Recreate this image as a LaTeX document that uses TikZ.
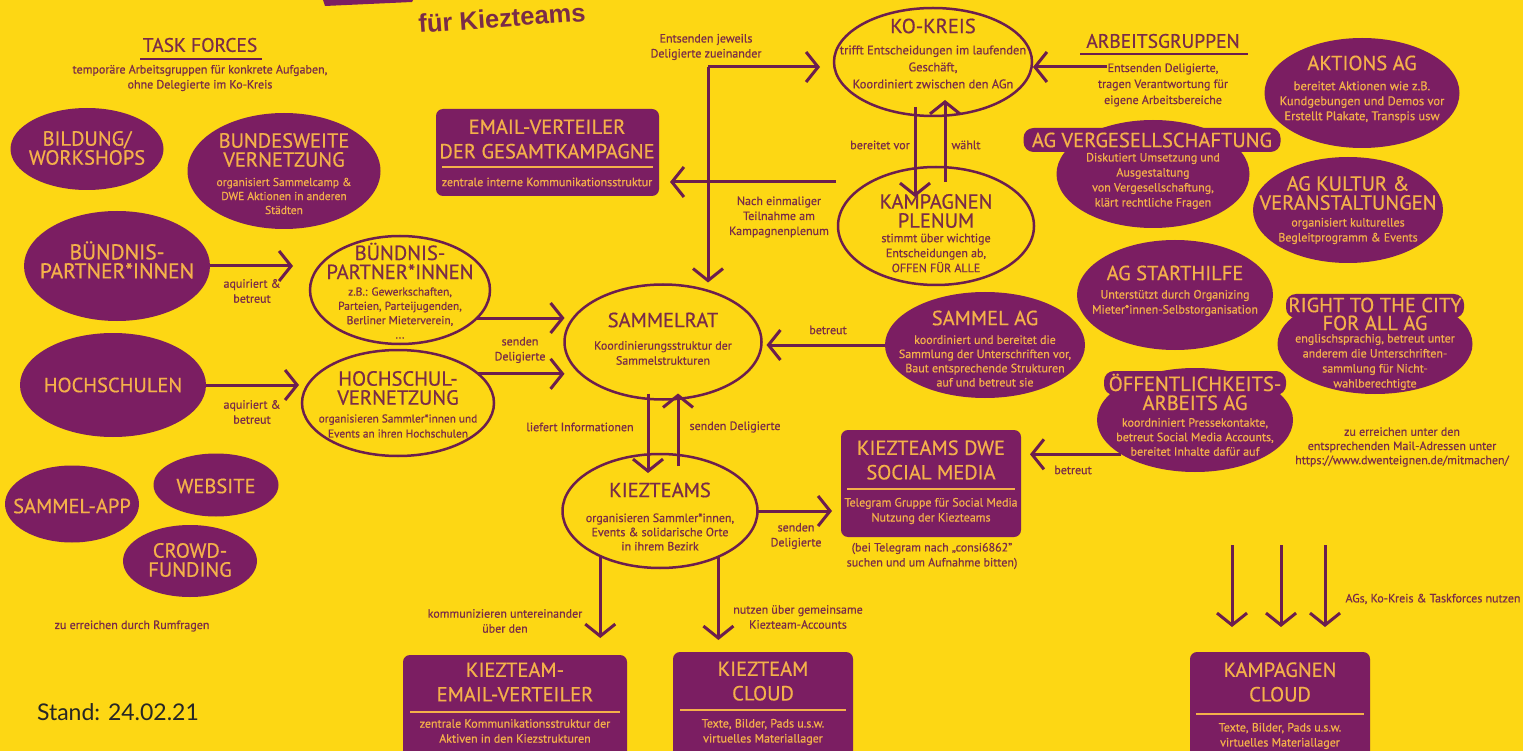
\documentclass[tikz,border=0pt]{standalone}
\usepackage{fontspec}
\setmainfont{PT Sans}[FakeBold=0.6]
\newfontfamily\arialfont{Liberation Sans}
\newfontfamily\standfont{Lato}
\usetikzlibrary{arrows.meta,shapes.geometric,calc}
\definecolor{bg}{HTML}{FDD714}
\definecolor{pur}{HTML}{7B1E62}
\definecolor{org}{HTML}{F4B04A}
\definecolor{ink}{HTML}{7A2C48}
\definecolor{ln}{HTML}{6C1E4E}
\begin{document}
\begin{tikzpicture}[x=1pt,y=-1pt,
  fe/.style={ellipse, fill=pur, inner sep=0pt, outer sep=0pt},
  le/.style={ellipse, draw=ln, line width=2.5pt, inner sep=0pt, outer sep=0pt},
  pb/.style={rectangle, rounded corners=7pt, fill=pur, inner sep=0pt, outer sep=0pt},
  tag/.style={rectangle, rounded corners=10pt, fill=pur, inner sep=0pt},
  T/.style={font=\fontsize{20.5}{19}\selectfont, align=center, inner sep=0pt},
  TB/.style={font=\fontsize{20.5}{24.5}\selectfont, align=center, inner sep=0pt},
  S/.style={font=\fontsize{12}{15}\selectfont, align=center, inner sep=0pt},
  op/.style={text=org},
  oy/.style={text=ink},
  conn/.style={draw=ln, line width=3pt, -{Straight Barb[length=12pt,width=30pt]}},
  rl/.style={draw=org, line width=2.5pt},
  ul/.style={draw=ln, line width=2pt}]
\useasboundingbox (0,0) rectangle (1523,751);
\clip (0,0) rectangle (1523,751);
\fill[bg] (0,0) rectangle (1523,751);

% title fragment
\fill[pur] (323,0) -- (413,0) -- (412,2) -- (325,6) -- cycle;
\node[font=\arialfont\bfseries\fontsize{25.5}{26}\selectfont, text=ink, rotate=4, inner sep=0pt] (title) at (502,18) {für Kiezteams};

% task forces
\node[oy, font=\fontsize{19.5}{19}\selectfont, inner sep=0pt] (tf) at (200,45) {TASK FORCES};
\draw[ul] (140,59) -- (262,59);
\node[S, oy] (tfs) at (200,78) {temporäre Arbeitsgruppen für konkrete Aufgaben,\\ohne Delegierte im Ko-Kreis};

\node[fe, minimum width=153, minimum height=82] (bild) at (87,149) {};
\node[T, op] (bildt) at (87,148) {BILDUNG/\\WORKSHOPS};

\node[fe, minimum width=193, minimum height=116] (bund) at (284,171) {};
\node[T, op] (bundt) at (284,150) {BUNDESWEITE\\VERNETZUNG};
\node[S, op, font=\fontsize{11.5}{14}\selectfont] (bunds) at (284,196) {organisiert Sammelcamp \&\\DWE Aktionen in anderen\\Städten};

\node[fe, minimum width=186, minimum height=110] (bf) at (117,266) {};
\node[T, op, font=\fontsize{21.5}{19}\selectfont] (bft) at (117,260) {BÜNDNIS-\\PARTNER*INNEN};
\node[S, oy] (lb1) at (252,291) {aquiriert \&\\betreut};

\node[le, minimum width=180, minimum height=108] (bo) at (400,290) {};
\node[T, oy] (bot) at (400,261) {BÜNDNIS-\\PARTNER*INNEN};
\node[S, oy, font=\fontsize{11.5}{14.3}\selectfont] (bos) at (400,313) {z.B.: Gewerkschaften,\\Parteien, Parteijugenden,\\Berliner Mieterverein,\\...};

\node[fe, minimum width=186, minimum height=104] (hf) at (113,385) {};
\node[T, op] (hft) at (113,385) {HOCHSCHULEN};
\node[S, oy] (lb2) at (252,412) {aquiriert \&\\betreut};

\node[le, minimum width=192, minimum height=106] (ho) at (398,403) {};
\node[T, oy] (hot) at (398,388) {HOCHSCHUL-\\VERNETZUNG};
\node[S, oy, font=\fontsize{11.3}{15}\selectfont] (hos) at (398,426) {organisieren Sammler*innen und\\Events an ihren Hochschulen};

\node[S, oy] (lb3) at (520,350) {senden\\Deligierte};

\node[le, minimum width=197, minimum height=115] (sr) at (663,342) {};
\node[T, oy] (srt) at (663,320) {SAMMELRAT};
\node[S, oy] (srs) at (663,353) {Koordinierungsstruktur der\\Sammelstrukturen};

\node[pb, minimum width=223, minimum height=87] (em) at (547.5,152.5) {};
\node[TB, op] (emt) at (547,139) {EMAIL-VERTEILER\\DER GESAMTKAMPAGNE};
\draw[rl] (442,167) -- (653,167);
\node[S, op] (ems) at (547,182) {zentrale interne Kommunikationsstruktur};

\node[S, oy] (lb4) at (706,47) {Entsenden jeweils\\Deligierte zueinander};

\node[le, minimum width=198, minimum height=108] (ko) at (933,62) {};
\node[T, oy] (kot) at (933,26) {KO-KREIS};
\node[S, oy, font=\fontsize{12.5}{17}\selectfont] (kos) at (933,67) {trifft Entscheidungen im laufenden\\Geschäft,\\Koordiniert zwischen den AGn};

\node[S, oy] (lb5) at (880,145) {bereitet vor};
\node[S, oy] (lb6) at (966,145) {wählt};

\node[le, minimum width=196, minimum height=118] (pl) at (936,226) {};
\node[T, oy] (plt) at (936,211) {KAMPAGNEN\\PLENUM};
\node[S, oy] (pls) at (936,253) {stimmt über wichtige\\Entscheidungen ab,\\OFFEN FÜR ALLE};

\node[S, oy] (lb7) at (779,217) {Nach einmaliger\\Teilnahme am\\Kampagnenplenum};

% Arbeitsgruppen
\node[oy, font=\fontsize{19.5}{19}\selectfont, inner sep=0pt] (ag) at (1163,41) {ARBEITSGRUPPEN};
\draw[ul] (1080,54) -- (1248,54);
\node[S, oy, font=\fontsize{12}{16}\selectfont] (ags) at (1163,85) {Entsenden Deligierte,\\tragen Verantwortung für\\eigene Arbeitsbereiche};

\node[fe, minimum width=195, minimum height=110] (akt) at (1362,93) {};
\node[T, op] (aktt) at (1362,63) {AKTIONS AG};
\node[S, op, font=\fontsize{12.5}{15}\selectfont] (akts) at (1362,102) {bereitet Aktionen wie z.B.\\Kundgebungen und Demos vor\\Erstellt Plakate, Transpis usw};

\node[fe, minimum width=193, minimum height=108] (agv) at (1153,174) {};
\node[tag, minimum width=257, minimum height=24] (agvtag) at (1152,140) {};
\node[T, op] (agvt) at (1152,140) {AG VERGESELLSCHAFTUNG};
\node[S, op] (agvs) at (1153,181) {Diskutiert Umsetzung und\\Ausgestaltung\\von Vergesellschaftung,\\klärt rechtliche Fragen};

\node[fe, minimum width=190, minimum height=106] (kul) at (1348,210) {};
\node[T, op] (kult) at (1348,193) {AG KULTUR \&\\VERANSTALTUNGEN};
\node[S, op] (kuls) at (1348,231) {organisiert kulturelles\\Begleitprogramm \& Events};

\node[fe, minimum width=196, minimum height=110] (st) at (1175,295) {};
\node[T, op] (stt) at (1175,273) {AG STARTHILFE};
\node[S, op] (sts) at (1175,303) {Unterstützt durch Organizing\\Mieter*innen-Selbstorganisation};

\node[fe, minimum width=200, minimum height=106] (sag) at (985,345) {};
\node[T, op] (sagt) at (985,318) {SAMMEL AG};
\node[S, op, font=\fontsize{12}{14.2}\selectfont] (sags) at (985,361) {koordiniert und bereitet die\\Sammlung der Unterschriften vor,\\Baut entsprechende Strukturen\\auf und betreut sie};
\node[S, oy] (lb8) at (828,330) {betreut};

\node[fe, minimum width=195, minimum height=100] (rtc) at (1375,344) {};
\node[tag, minimum width=178, minimum height=24] (rtctag) at (1375,306) {};
\node[T, op, font=\fontsize{20.5}{18}\selectfont] (rtct) at (1375,314) {RIGHT TO THE CITY\\FOR ALL AG};
\node[S, op] (rtcs) at (1375,362) {englischsprachig, betreut unter\\anderem die Unterschriften-\\sammlung für Nicht-\\wahlberechtigte};

\node[fe, minimum width=196, minimum height=104] (oe) at (1195,420) {};
\node[tag, minimum width=182, minimum height=24] (oetag) at (1195,383) {};
\node[T, op] (oet) at (1195,392) {ÖFFENTLICHKEITS-\\ARBEITS AG};
\node[S, op, font=\fontsize{12}{14.5}\selectfont] (oes) at (1195,437) {koordniniert Pressekontakte,\\betreut Social Media Accounts,\\bereitet Inhalte dafür auf};
\node[S, oy] (lb9) at (1073,470) {betreut};

\node[S, oy, font=\fontsize{12}{14.2}\selectfont] (zu) at (1402,447) {zu erreichen unter den\\entsprechenden Mail-Adressen unter\\https://www.dwenteignen.de/mitmachen/};

% social media
\node[pb, minimum width=180, minimum height=107] (sm) at (931,483.5) {};
\node[TB, op] (smt) at (931,460) {KIEZTEAMS DWE\\SOCIAL MEDIA};
\draw[rl] (847,489) -- (1015,489);
\node[S, op] (sms) at (931,511) {Telegram Gruppe für Social Media\\Nutzung der Kiezteams};
\node[S, oy] (smb) at (932,556) {(bei Telegram nach „consi6862"\\suchen und um Aufnahme bitten)};

\node[S, oy] (lb10) at (580,427) {liefert Informationen};
\node[S, oy] (lb11) at (735,427) {senden Deligierte};

\node[le, minimum width=195, minimum height=114] (kt) at (660,511) {};
\node[T, oy] (ktt) at (660,490) {KIEZTEAMS};
\node[S, oy, font=\fontsize{12}{14.2}\selectfont] (kts) at (660,532) {organisieren Sammler*innen,\\Events \& solidarische Orte\\in ihrem Bezirk};
\node[S, oy] (lb12) at (796,536) {senden\\Deligierte};

\node[S, oy] (lb13) at (505,621) {kommunizieren untereinander\\über den};
\node[S, oy] (lb14) at (798,617) {nutzen über gemeinsame\\Kiezteam-Accounts};

\node[pb, minimum width=224, minimum height=116] (kev) at (515,713) {};
\node[TB, op] (kevt) at (515,682) {KIEZTEAM-\\EMAIL-VERTEILER};
\draw[rl] (410,712) -- (620,712);
\node[S, op] (kevs) at (515,731) {zentrale Kommunikationsstruktur der\\Aktiven in den Kiezstrukturen};

\node[pb, minimum width=180, minimum height=124] (kc) at (763,714) {};
\node[TB, op] (kct) at (763,681) {KIEZTEAM\\CLOUD};
\draw[rl] (680,710) -- (846,710);
\node[S, op] (kcs) at (763,732) {Texte, Bilder, Pads u.s.w.\\virtuelles Materiallager};

\node[pb, minimum width=180, minimum height=124] (kpc) at (1280,714) {};
\node[TB, op] (kpct) at (1280,682) {KAMPAGNEN\\CLOUD};
\draw[rl] (1196,714) -- (1364,714);
\node[S, op] (kpcs) at (1280,736) {Texte, Bilder, Pads u.s.w.\\virtuelles Materiallager};

\node[S, oy] (lb15) at (1433,599) {AGs, Ko-Kreis \& Taskforces nutzen};

% bottom left
\node[fe, minimum width=134, minimum height=77] (sapp) at (72,504) {};
\node[T, op] (sappt) at (72,506) {SAMMEL-APP};
\node[fe, minimum width=125, minimum height=63] (web) at (216,485) {};
\node[T, op] (webt) at (216,486) {WEBSITE};
\node[fe, minimum width=134, minimum height=72] (crowd) at (190,561) {};
\node[T, op] (crowdt) at (190,560) {CROWD-\\FUNDING};
\node[S, oy] (rum) at (132,626) {zu erreichen durch Rumfragen};

\node[font=\standfont\fontsize{23}{24}\selectfont, text=black!85, inner sep=0pt] (stand) at (118,712) {Stand: 24.02.21};

% connectors
\coordinate (junc) at (708,67);
\coordinate (pe) at (836,182);
\coordinate (agstart) at (1107,67);
\coordinate (c1) at (1232,545);
\coordinate (c2) at (1281,545);
\coordinate (c3) at (1325,545);

\draw[conn, shorten >=17pt] (bf.east) -- (bf.east -| bo.west);
\draw[conn, shorten >=3pt] (hf.east) -- (hf.east -| ho.west);
\draw[conn] (bo.-20) -- (bo.-20 -| sr.west);
\draw[conn] (ho.20) -- (ho.20 -| sr.west);
\draw[conn, shorten >=2pt] (junc) -- (junc |- sr.north);
\draw[conn, shorten >=14pt] (junc) -- (junc -| ko.west);
\draw[conn, shorten >=11pt] (pe) -- (pe -| em.east);
\draw[conn] ($(ko.south)+(-18,-9)$) -- ($(pl.north)+(-21,30)$);
\draw[conn] ($(pl.north)+(9,15)$) -- ($(ko.south)+(12,-16)$);
\draw[conn, shorten >=1pt] (agstart) -- (agstart -| ko.east);
\draw[conn, shorten >=5pt] (sag.west) -- (sag.west -| sr.east);
\draw[conn, shorten >=9pt] (oe.205) -- (oe.205 -| sm.east);
\draw[conn] ($(sr.south)+(-15,-6)$) -- ($(kt.north)+(-12,19)$);
\draw[conn] ($(kt.north)+(18,12)$) -- ($(sr.south)+(15,-6)$);
\draw[conn, shorten >=9pt] (kt.east) -- (kt.east -| sm.west);
\draw[conn, shorten >=17pt] (kt.217) -- (kt.217 |- kev.north);
\draw[conn, shorten >=12pt] (kt.-38) -- (kt.-38 |- kc.north);
\draw[conn, shorten >=25pt] (c1) -- (c1 |- kpc.north);
\draw[conn, shorten >=25pt] (c2) -- (c2 |- kpc.north);
\draw[conn, shorten >=25pt] (c3) -- (c3 |- kpc.north);
\end{tikzpicture}
\end{document}
